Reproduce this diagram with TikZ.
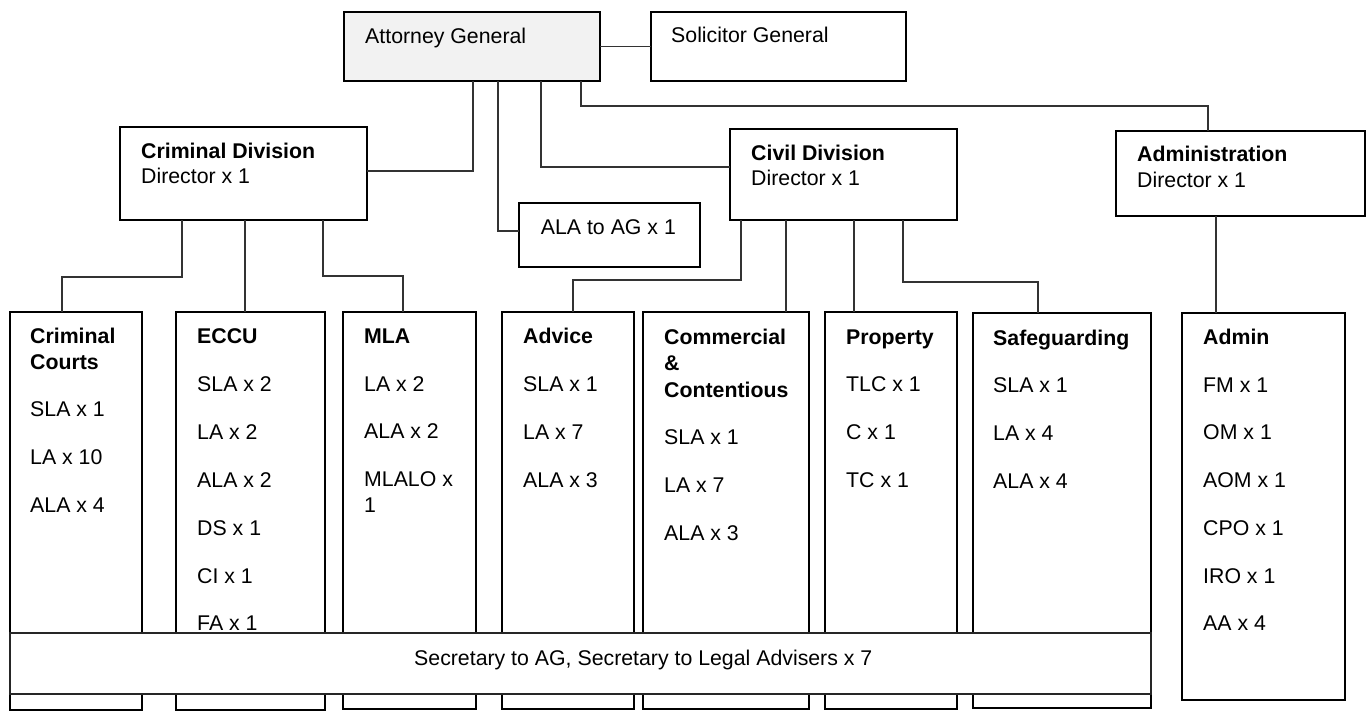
\documentclass[tikz,border=0pt]{standalone}
\usepackage{fontspec}
\setmainfont{Liberation Sans}
\definecolor{agfill}{HTML}{F2F2F2}
\definecolor{lnk}{HTML}{333333}
\begin{document}
\begin{tikzpicture}[x=1pt,y=-1pt,
  box/.style={draw=black,line width=1.8pt,rectangle,inner sep=0pt,outer sep=0pt,anchor=north west,fill=white},
  bar/.style={draw=black!85,line width=1.1pt,rectangle,inner sep=0pt,outer sep=0pt,anchor=north west,fill=white},
  conn/.style={draw=lnk,line width=1.1pt},
  txt/.style={anchor=base west,inner sep=0pt,font=\fontsize{21.3}{25}\selectfont},
  btxt/.style={txt,font=\fontsize{21.3}{25}\selectfont\bfseries}]
\useasboundingbox (0,0) rectangle (1370,711);
% top level
\node[box,fill=agfill,minimum width=256pt,minimum height=69pt] (ag) at (344,12) {};
\node[box,minimum width=255pt,minimum height=69pt] (sg) at (651,12) {};
\node[box,minimum width=247pt,minimum height=93pt] (crim) at (120,127) {};
\node[box,minimum width=181pt,minimum height=64pt] (ala) at (519,203) {};
\node[box,minimum width=227pt,minimum height=91pt] (civ) at (730,129) {};
\node[box,minimum width=249pt,minimum height=85pt] (adm) at (1116,131) {};
% units
\node[box,minimum width=132pt,minimum height=398pt] (cc) at (10,312) {};
\node[box,minimum width=149pt,minimum height=398pt] (eccu) at (176,312) {};
\node[box,minimum width=133pt,minimum height=397pt] (mla) at (343,312) {};
\node[box,minimum width=132pt,minimum height=397pt] (adv) at (502,312) {};
\node[box,minimum width=166pt,minimum height=397pt] (com) at (643,312) {};
\node[box,minimum width=132pt,minimum height=397pt] (prop) at (825,312) {};
\node[box,minimum width=178pt,minimum height=395pt] (safe) at (973,313) {};
\node[box,minimum width=163pt,minimum height=387pt] (adu) at (1182,313) {};
% connectors
\draw[conn] (ag.east) -- (sg.west);
\draw[conn] ([xshift=129pt]ag.south west) |- ([yshift=2.5pt]crim.east);
\draw[conn] ([xshift=154pt]ag.south west) |- ([yshift=4pt]ala.west);
\draw[conn] ([xshift=197pt]ag.south west) |- ([yshift=7.5pt]civ.west);
\draw[conn] ([xshift=237pt]ag.south west) |- ([xshift=92pt,yshift=25pt]adm.north west) -- ([xshift=92pt]adm.north west);
\draw[conn] ([xshift=62pt]crim.south west) |- ([xshift=52pt,yshift=35pt]cc.north west) -- ([xshift=52pt]cc.north west);
\draw[conn] ([xshift=125pt]crim.south west) -- ([xshift=69pt]eccu.north west);
\draw[conn] ([xshift=203pt]crim.south west) |- ([xshift=60pt,yshift=36pt]mla.north west) -- ([xshift=60pt]mla.north west);
\draw[conn] ([xshift=11pt]civ.south west) |- ([xshift=71pt,yshift=32pt]adv.north west) -- ([xshift=71pt]adv.north west);
\draw[conn] ([xshift=56pt]civ.south west) -- ([xshift=143pt]com.north west);
\draw[conn] ([xshift=124pt]civ.south west) -- ([xshift=29pt]prop.north west);
\draw[conn] ([xshift=173pt]civ.south west) |- ([xshift=65pt,yshift=31pt]safe.north west) -- ([xshift=65pt]safe.north west);
\draw[conn] ([xshift=100pt]adm.south west) -- ([xshift=34pt]adu.north west);
% secretary bar
\node[bar,minimum width=1141pt,minimum height=61pt] (sec) at (10,633) {};
% texts
\node[txt] (tag) at (365,43.6) {Attorney General};
\node[txt] (tsg) at (671,42.6) {Solicitor General};
\node[btxt] (tcr1) at (141,158.3) {Criminal Division};
\node[txt] (tcr2) at (141,183.6) {Director x 1};
\node[txt] (tala) at (540.7,234.6) {ALA to AG x 1};
\node[btxt] (tcv1) at (751,160.3) {Civil Division};
\node[txt] (tcv2) at (751,185.3) {Director x 1};
\node[btxt] (tad1) at (1137,161.6) {Administration};
\node[txt] (tad2) at (1137,187.6) {Director x 1};
% criminal courts
\node[btxt] at (30,343.5) {Criminal};
\node[btxt] at (30,369.5) {Courts};
\node[txt] at (30,416) {SLA x 1};
\node[txt] at (30,464) {LA x 10};
\node[txt] at (30,512) {ALA x 4};
% ECCU
\node[btxt] at (197,343.5) {ECCU};
\node[txt] at (197,391.5) {SLA x 2};
\node[txt] at (197,439.5) {LA x 2};
\node[txt] at (197,487.5) {ALA x 2};
\node[txt] at (197,535.5) {DS x 1};
\node[txt] at (197,583.5) {CI x 1};
\node[txt] at (197,630.5) {FA x 1};
% MLA
\node[btxt] at (364,343.5) {MLA};
\node[txt] at (364,391.5) {LA x 2};
\node[txt] at (364,438.5) {ALA x 2};
\node[txt] at (364,486) {MLALO x};
\node[txt] at (364,512) {1};
% Advice
\node[btxt] at (523,343.5) {Advice};
\node[txt] at (523,391.5) {SLA x 1};
\node[txt] at (523,439.5) {LA x 7};
\node[txt] at (523,487.5) {ALA x 3};
% Commercial
\node[btxt] at (664,344) {Commercial};
\node[btxt] at (664,370) {\&};
\node[btxt] at (664,397) {Contentious};
\node[txt] at (664,444) {SLA x 1};
\node[txt] at (664,492.5) {LA x 7};
\node[txt] at (664,540) {ALA x 3};
% Property
\node[btxt] at (846,344) {Property};
\node[txt] at (846,391) {TLC x 1};
\node[txt] at (846,439) {C x 1};
\node[txt] at (846,487.5) {TC x 1};
% Safeguarding
\node[btxt] at (993,345) {Safeguarding};
\node[txt] at (993,392) {SLA x 1};
\node[txt] at (993,440) {LA x 4};
\node[txt] at (993,488) {ALA x 4};
% Admin
\node[btxt] at (1203,344) {Admin};
\node[txt] at (1203,392) {FM x 1};
\node[txt] at (1203,439) {OM x 1};
\node[txt] at (1203,487.5) {AOM x 1};
\node[txt] at (1203,535) {CPO x 1};
\node[txt] at (1203,583) {IRO x 1};
\node[txt] at (1203,630) {AA x 4};
% bar text
\node[txt] (tsec) at (414,665) {Secretary to AG, Secretary to Legal Advisers x 7};
\end{tikzpicture}
\end{document}
